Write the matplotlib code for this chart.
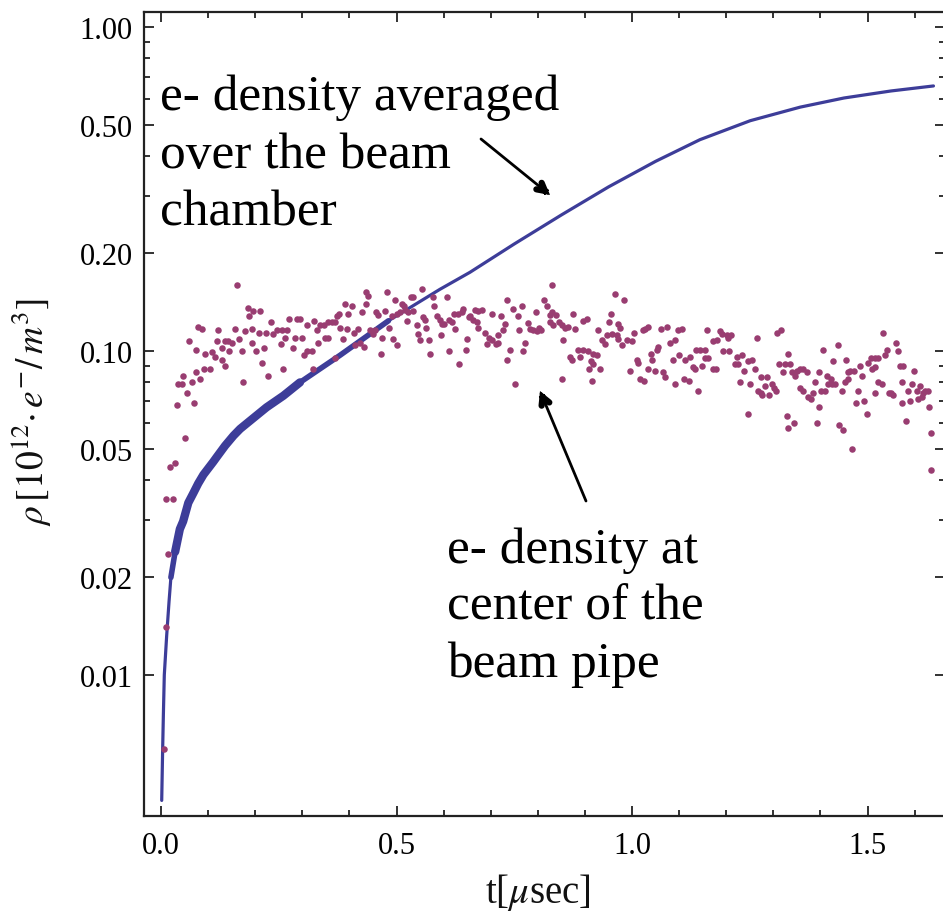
import matplotlib
matplotlib.use('Agg')
import matplotlib.pyplot as plt
from matplotlib.ticker import FixedLocator, FixedFormatter, NullFormatter

# ---------------- data ----------------
# e- density averaged over the beam chamber (blue curve)
curve_t = [0.0015, 0.0035, 0.005, 0.007, 0.012, 0.017, 0.021, 0.030, 0.040, 0.047,
           0.058, 0.069, 0.079, 0.090, 0.111, 0.118, 0.136, 0.154, 0.168, 0.189,
           0.224, 0.260, 0.295, 0.380, 0.483, 0.592, 0.656, 0.750, 0.850, 0.950,
           1.050, 1.144, 1.251, 1.357, 1.450, 1.550, 1.640]
curve_rho = [0.0041, 0.0059, 0.0075, 0.0100, 0.0132, 0.0168, 0.0200, 0.0240, 0.0282, 0.0298,
             0.0340, 0.0365, 0.0390, 0.0415, 0.0455, 0.0470, 0.0510, 0.0548, 0.0575, 0.0609,
             0.0670, 0.0728, 0.0800, 0.0970, 0.1240, 0.1550, 0.1750, 0.2140, 0.2630, 0.3210,
             0.3850, 0.4490, 0.5140, 0.5660, 0.6040, 0.6350, 0.6580]

# e- density at the center of the beam pipe (scatter)
center_t = [
    0.162, 0.184, 0.196, 0.210, 0.187, 0.078, 0.086, 0.122, 0.157, 0.178,
    0.193, 0.207, 0.223, 0.233, 0.246, 0.256, 0.267, 0.238, 0.272, 0.288,
    0.295, 0.309, 0.060, 0.074, 0.093, 0.108, 0.115, 0.118, 0.129, 0.136,
    0.143, 0.150, 0.144, 0.166, 0.171, 0.193, 0.202, 0.219, 0.254, 0.263,
    0.280, 0.285, 0.299, 0.304, 0.311, 0.129, 0.136, 0.091, 0.104, 0.214,
    0.258, 0.228, 0.175, 0.074, 0.047, 0.083, 0.065, 0.037, 0.044, 0.056,
    0.069, 0.033, 0.051, 0.019, 0.030, 0.011, 0.025, 0.015, 0.011, 0.007,
    # 0.3 - 0.65
    0.325, 0.338, 0.345, 0.355, 0.362, 0.369, 0.373, 0.378, 0.391, 0.405,
    0.380, 0.394, 0.331, 0.348, 0.355, 0.334, 0.387, 0.398, 0.410, 0.419,
    0.426, 0.435, 0.440, 0.435, 0.456, 0.461, 0.476, 0.479, 0.444, 0.451,
    0.454, 0.423, 0.430, 0.412, 0.470, 0.467, 0.493, 0.500, 0.483, 0.491,
    0.500, 0.507, 0.497, 0.511, 0.516, 0.518, 0.525, 0.531, 0.534, 0.536,
    0.523, 0.543, 0.546, 0.550, 0.568, 0.555, 0.557, 0.561, 0.562, 0.571,
    0.578, 0.580, 0.585, 0.592, 0.596, 0.601, 0.594, 0.607, 0.611, 0.617,
    0.624, 0.621, 0.630, 0.638, 0.642, 0.611, 0.633, 0.649, 0.647, 0.654,
    0.320, 0.323, 0.369,
    # 0.65 - 1.0
    0.831, 0.734, 0.748, 0.766, 0.813, 0.819, 0.796, 0.826, 0.831, 0.838,
    0.875, 0.964, 0.982, 0.955, 0.674, 0.681, 0.667, 0.656, 0.663, 0.670,
    0.674, 0.703, 0.722, 0.757, 0.730, 0.727, 0.688, 0.696, 0.702, 0.716,
    0.711, 0.715, 0.692, 0.761, 0.779, 0.783, 0.790, 0.798, 0.803, 0.807,
    0.773, 0.769, 0.741, 0.734, 0.752, 0.826, 0.833, 0.844, 0.851, 0.858,
    0.865, 0.880, 0.854, 0.897, 0.904, 0.928, 0.936, 0.943, 0.946, 0.957,
    0.968, 0.971, 0.951, 0.971, 0.975, 0.978, 0.989, 0.886, 0.897, 0.907,
    0.918, 0.925, 0.868, 0.872, 0.890, 0.913, 0.917, 0.909, 0.932, 0.851,
    0.914, 0.996,
    # 1.0 - 1.34
    0.999, 1.005, 1.024, 1.033, 1.028, 1.062, 1.074, 1.098, 1.106, 1.081,
    1.091, 1.056, 1.052, 1.040, 1.042, 1.010, 1.013, 1.035, 1.049, 1.017,
    1.026, 1.066, 1.070, 1.091, 1.088, 1.100, 1.113, 1.123, 1.111, 1.120,
    1.129, 1.134, 1.135, 1.144, 1.155, 1.155, 1.162, 1.149, 1.171, 1.178,
    1.141, 1.159, 1.173, 1.180, 1.187, 1.190, 1.201, 1.210, 1.204, 1.194,
    1.206, 1.222, 1.233, 1.219, 1.226, 1.246, 1.255, 1.238, 1.261, 1.265,
    1.229, 1.251, 1.274, 1.286, 1.282, 1.297, 1.302, 1.268, 1.274, 1.275,
    1.291, 1.305, 1.307, 1.316, 1.312, 1.325, 1.321, 1.332, 1.335, 1.247,
    1.328, 1.332,
    # 1.34 - 1.64
    1.339, 1.350, 1.357, 1.362, 1.371, 1.346, 1.357, 1.364, 1.373, 1.380,
    1.385, 1.389, 1.396, 1.406, 1.437, 1.427, 1.454, 1.413, 1.423, 1.424,
    1.431, 1.401, 1.410, 1.417, 1.445, 1.452, 1.459, 1.458, 1.463, 1.472,
    1.484, 1.489, 1.480, 1.476, 1.493, 1.498, 1.396, 1.392, 1.343, 1.439,
    1.449, 1.466, 1.502, 1.507, 1.516, 1.522, 1.510, 1.516, 1.516, 1.523,
    1.530, 1.532, 1.537, 1.542, 1.560, 1.564, 1.546, 1.550, 1.555, 1.569,
    1.576, 1.573, 1.573, 1.581, 1.590, 1.587, 1.595, 1.599, 1.604, 1.608,
    1.615, 1.618, 1.622, 1.628, 1.611, 1.631, 1.635, 1.635,
]
center_rho = [
    0.160, 0.136, 0.133, 0.133, 0.128, 0.119, 0.117, 0.116, 0.117, 0.115,
    0.117, 0.114, 0.114, 0.123, 0.116, 0.116, 0.116, 0.113, 0.126, 0.126,
    0.126, 0.120, 0.107, 0.101, 0.098, 0.099, 0.096, 0.107, 0.102, 0.107,
    0.107, 0.106, 0.100, 0.109, 0.100, 0.106, 0.100, 0.102, 0.105, 0.110,
    0.102, 0.110, 0.110, 0.097, 0.100, 0.094, 0.090, 0.088, 0.088, 0.092,
    0.088, 0.084, 0.080, 0.086, 0.084, 0.082, 0.080, 0.079, 0.079, 0.074,
    0.069, 0.068, 0.054, 0.044, 0.045, 0.035, 0.035, 0.0237, 0.0141, 0.0059,
    # 0.3 - 0.65
    0.124, 0.120, 0.120, 0.123, 0.123, 0.123, 0.128, 0.130, 0.140, 0.138,
    0.118, 0.117, 0.116, 0.110, 0.110, 0.106, 0.109, 0.130, 0.114, 0.117,
    0.132, 0.152, 0.148, 0.140, 0.132, 0.129, 0.133, 0.152, 0.116, 0.113,
    0.116, 0.106, 0.103, 0.104, 0.110, 0.098, 0.109, 0.104, 0.118, 0.128,
    0.130, 0.132, 0.144, 0.140, 0.138, 0.134, 0.132, 0.147, 0.147, 0.133,
    0.124, 0.120, 0.113, 0.108, 0.108, 0.155, 0.127, 0.125, 0.118, 0.098,
    0.147, 0.138, 0.128, 0.125, 0.121, 0.121, 0.112, 0.147, 0.125, 0.123,
    0.117, 0.130, 0.130, 0.132, 0.135, 0.100, 0.091, 0.109, 0.101, 0.127,
    0.100, 0.088, 0.095,
    # 0.65 - 1.0
    0.160, 0.144, 0.135, 0.138, 0.144, 0.138, 0.132, 0.129, 0.132, 0.129,
    0.130, 0.150, 0.144, 0.130, 0.133, 0.134, 0.134, 0.128, 0.125, 0.123,
    0.118, 0.130, 0.128, 0.128, 0.121, 0.116, 0.114, 0.110, 0.108, 0.112,
    0.105, 0.106, 0.105, 0.116, 0.122, 0.117, 0.116, 0.115, 0.118, 0.116,
    0.106, 0.100, 0.101, 0.094, 0.079, 0.123, 0.120, 0.123, 0.120, 0.118,
    0.119, 0.117, 0.108, 0.124, 0.126, 0.116, 0.108, 0.105, 0.112, 0.113,
    0.112, 0.109, 0.123, 0.121, 0.118, 0.104, 0.108, 0.101, 0.101, 0.100,
    0.098, 0.097, 0.096, 0.094, 0.096, 0.093, 0.091, 0.088, 0.088, 0.082,
    0.081, 0.087,
    # 1.0 - 1.34
    0.107, 0.114, 0.116, 0.119, 0.117, 0.117, 0.119, 0.116, 0.117, 0.106,
    0.108, 0.103, 0.101, 0.098, 0.094, 0.094, 0.092, 0.088, 0.087, 0.082,
    0.081, 0.086, 0.083, 0.079, 0.094, 0.097, 0.094, 0.096, 0.082, 0.081,
    0.089, 0.088, 0.101, 0.101, 0.101, 0.095, 0.095, 0.090, 0.088, 0.088,
    0.075, 0.116, 0.107, 0.108, 0.115, 0.113, 0.112, 0.112, 0.110, 0.100,
    0.100, 0.096, 0.097, 0.091, 0.091, 0.093, 0.094, 0.087, 0.088, 0.110,
    0.080, 0.079, 0.083, 0.083, 0.078, 0.079, 0.077, 0.075, 0.074, 0.073,
    0.073, 0.075, 0.114, 0.116, 0.091, 0.091, 0.086, 0.098, 0.091, 0.064,
    0.063, 0.058,
    # 1.34 - 1.64
    0.086, 0.087, 0.088, 0.088, 0.086, 0.084, 0.077, 0.075, 0.072, 0.071,
    0.074, 0.080, 0.086, 0.101, 0.104, 0.093, 0.094, 0.084, 0.082, 0.079,
    0.079, 0.075, 0.075, 0.079, 0.075, 0.080, 0.082, 0.086, 0.087, 0.087,
    0.090, 0.084, 0.075, 0.069, 0.070, 0.064, 0.067, 0.060, 0.060, 0.059,
    0.057, 0.050, 0.092, 0.095, 0.095, 0.095, 0.088, 0.089, 0.074, 0.080,
    0.079, 0.114, 0.097, 0.101, 0.106, 0.100, 0.074, 0.074, 0.073, 0.090,
    0.090, 0.080, 0.069, 0.061, 0.070, 0.075, 0.079, 0.087, 0.075, 0.071,
    0.072, 0.074, 0.075, 0.075, 0.078, 0.067, 0.056, 0.043,
]

x_major = [0.0, 0.5, 1.0, 1.5]
x_major_labels = ["0.0", "0.5", "1.0", "1.5"]
x_minor = [0.1, 0.2, 0.3, 0.4, 0.6, 0.7, 0.8, 0.9, 1.1, 1.2, 1.3, 1.4, 1.6]
y_major = [0.01, 0.02, 0.05, 0.10, 0.20, 0.50, 1.00]
y_major_labels = ["0.01", "0.02", "0.05", "0.10", "0.20", "0.50", "1.00"]
y_minor = [0.03, 0.04, 0.06, 0.07, 0.08, 0.09, 0.3, 0.4, 0.6, 0.7, 0.8, 0.9]

label_avg = ["e- density averaged", "over the beam", "chamber"]
label_center = ["e- density at", "center of the", "beam pipe"]

# ---------------- figure ----------------
W, H = 943, 920
plt.rcParams['mathtext.fontset'] = 'stix'
fig = plt.figure(figsize=(W / 100, H / 100), dpi=100)
fig.patch.set_facecolor('white')

L, R, T, B = 144, 945, 13, 817
ax = fig.add_axes([L / W, 1 - B / H, (R - L) / W, (B - T) / H])
ax.set_yscale('log')
ax.set_xlim(-0.0361, 1.6645)
ax.set_ylim(0.00367, 1.113)

blue = '#3d3d99'
magenta = '#993d71'

n = min(len(curve_t), len(curve_rho))
ct, cr = curve_t[:n], curve_rho[:n]
ax.plot(ct, cr, color=blue, lw=2.3, solid_capstyle='round',
        solid_joinstyle='round', zorder=3)
# thicker early part (many overlapping traces in the original)
k1 = [i for i in range(n) if 0.02 <= ct[i] <= 0.50]
ax.plot([ct[i] for i in k1], [cr[i] for i in k1], color=blue, lw=4.0,
        solid_capstyle='round', solid_joinstyle='round', zorder=3)
k2 = [i for i in range(n) if 0.03 <= ct[i] <= 0.30]
ax.plot([ct[i] for i in k2], [cr[i] for i in k2], color=blue, lw=6.0,
        solid_capstyle='round', solid_joinstyle='round', zorder=3)

m = min(len(center_t), len(center_rho))
ax.scatter(center_t[:m], center_rho[:m], s=22, color=magenta, linewidths=0,
           zorder=4)

# axes styling (Mathematica-like frame)
for s in ax.spines.values():
    s.set_linewidth(1.6)
    s.set_color('#222222')

ax.xaxis.set_major_locator(FixedLocator(x_major))
ax.xaxis.set_major_formatter(FixedFormatter(x_major_labels))
ax.xaxis.set_minor_locator(FixedLocator(x_minor))
ax.xaxis.set_minor_formatter(NullFormatter())
ax.yaxis.set_major_locator(FixedLocator(y_major))
ax.yaxis.set_major_formatter(FixedFormatter(y_major_labels))
ax.yaxis.set_minor_locator(FixedLocator(y_minor))
ax.yaxis.set_minor_formatter(NullFormatter())

ax.tick_params(which='both', direction='in', top=True, right=True,
               color='#222222', width=1.3)
ax.tick_params(which='major', length=7)
ax.tick_params(which='minor', length=4)
ax.tick_params(axis='y', which='major', pad=8)
ax.tick_params(axis='x', which='major', pad=11)
for lab in ax.get_xticklabels() + ax.get_yticklabels():
    lab.set_fontfamily('Liberation Serif')
    lab.set_fontsize(22)
    lab.set_color('black')

fig.text(32 / W, 1 - 412 / H, r'$\rho\,[10^{12}{\cdot}\,e^{-}/\,m^{3}]$',
         rotation=90, ha='center', va='center', fontsize=27, color='#111111')
fig.text(538 / W, 1 - 893 / H, r't[$\mu$sec]', ha='center', va='center',
         fontsize=28, family='Liberation Serif', color='#111111')

# annotations
afont = dict(family='Liberation Serif', fontsize=37, color='black')
for i, line in enumerate(label_avg):
    fig.text(160 / W, 1 - (110 + 58 * i) / H, line, ha='left', va='baseline', **afont)
for i, line in enumerate(label_center):
    fig.text(447 / W, 1 - (563 + 57 * i) / H, line, ha='left', va='baseline', **afont)


def arrow(x0, y0, x1, y1):
    # thin shaft
    ax.annotate('', xy=(x1 / W, 1 - y1 / H), xytext=(x0 / W, 1 - y0 / H),
                xycoords='figure fraction', textcoords='figure fraction',
                arrowprops=dict(arrowstyle='-', color='black', lw=2.0,
                                shrinkA=0, shrinkB=2))
    # bold open head
    fx = x1 - (x1 - x0) * 0.05
    fy = y1 - (y1 - y0) * 0.05
    ax.annotate('', xy=(x1 / W, 1 - y1 / H), xytext=(fx / W, 1 - fy / H),
                xycoords='figure fraction', textcoords='figure fraction',
                arrowprops=dict(arrowstyle='->,head_length=0.55,head_width=0.3',
                                color='black', lw=4.5, shrinkA=0, shrinkB=0,
                                joinstyle='miter', capstyle='round'))


arrow(481, 140, 550, 196)
arrow(586, 502, 540, 392)

fig.savefig('out.png', dpi=100, facecolor='white')
